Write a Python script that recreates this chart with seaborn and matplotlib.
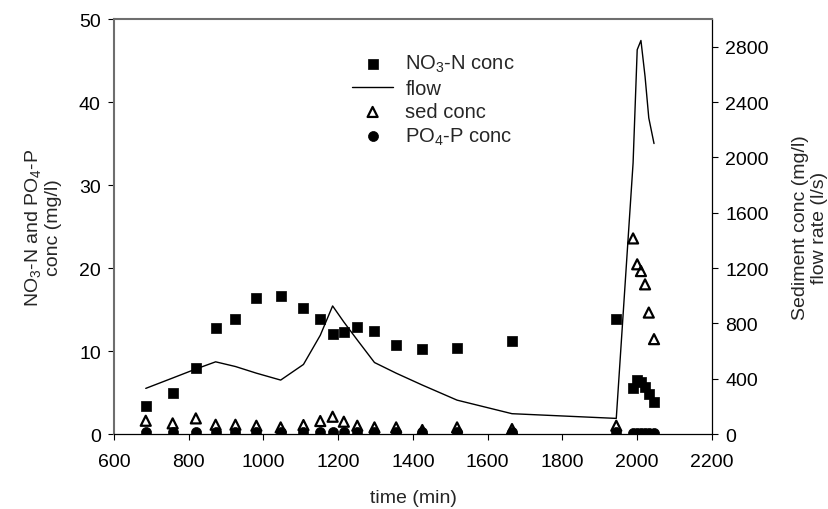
import numpy as np
import pandas as pd
import seaborn as sns
import matplotlib.pyplot as plt

# sample times (min)
times = [685, 757, 819, 872, 925, 981, 1046, 1107, 1152, 1185, 1215, 1251,
         1297, 1355, 1425, 1518, 1665, 1944, 1989, 2000, 2010, 2021, 2031, 2045]
# NO3-N conc (mg/l)
no3 = [3.4, 5.0, 7.95, 12.8, 13.9, 16.4, 16.6, 15.2, 13.9, 12.1, 12.3, 12.9,
       12.4, 10.7, 10.3, 10.4, 11.2, 13.8, 5.5, 6.5, 6.3, 5.7, 4.8, 3.9]
# PO4-P conc (mg/l)
po4 = [0.2, 0.2, 0.2, 0.2, 0.2, 0.2, 0.2, 0.2, 0.2, 0.2, 0.2, 0.2,
       0.2, 0.2, 0.2, 0.2, 0.2, 0.2, 0.15, 0.15, 0.15, 0.15, 0.15, 0.15]
# sediment conc (mg/l)
sed = [96, 77, 113, 67, 67, 60, 48, 65, 94, 125, 89, 60,
       48, 48, 29, 48, 36, 60, 1414, 1227, 1178, 1082, 878, 686]
# flow rate (l/s)
flow = [330, 405, 470, 522, 488, 440, 390, 503, 714, 926, 810, 680,
        517, 440, 354, 245, 147, 113, 1960, 2778, 2845, 2585, 2285, 2100]

df = pd.DataFrame({'time': times, 'no3': no3, 'po4': po4, 'sed': sed, 'flow': flow})

sns.set_style('ticks')
plt.rcParams['font.family'] = ['Liberation Sans', 'DejaVu Sans']
plt.rcParams['mathtext.fontset'] = 'custom'
plt.rcParams['mathtext.rm'] = 'Liberation Sans'
plt.rcParams['mathtext.it'] = 'Liberation Sans:italic'
plt.rcParams['mathtext.bf'] = 'Liberation Sans:bold'

FS = 14

fig = plt.figure(figsize=(8.29, 5.10), dpi=100)
ax = fig.add_axes([0.1375, 0.147, 0.7213, 0.8137])
ax2 = ax.twinx()

sns.scatterplot(data=df, x='time', y='no3', ax=ax, marker='s', s=46, color='black',
                edgecolor='black', linewidth=0.5, label='NO$_3$-N conc', zorder=3)
sns.scatterplot(data=df, x='time', y='po4', ax=ax, marker='o', s=52, color='black',
                edgecolor='black', linewidth=0.5, label='PO$_4$-P conc', zorder=3)

sns.lineplot(data=df, x='time', y='flow', ax=ax2, color='black', linewidth=1.0, label='flow')
sns.scatterplot(data=df, x='time', y='sed', ax=ax2, marker='^', s=52, facecolor='none',
                edgecolor='black', linewidth=1.6, label='sed conc', zorder=3)

ax.set_xlim(600, 2200)
ax.set_ylim(0, 50)
ax2.set_ylim(0, 3000)
ax.set_xticks(np.arange(600, 2201, 200))
ax.set_yticks(np.arange(0, 51, 10))
ax2.set_yticks(np.arange(0, 2801, 400))

ax.set_xlabel('time (min)', fontsize=FS, labelpad=14)
ax.set_ylabel('NO$_3$-N and PO$_4$-P\nconc (mg/l)', fontsize=FS, labelpad=12, linespacing=1.2)
ax2.set_ylabel('Sediment conc (mg/l)\nflow rate (l/s)', fontsize=FS, labelpad=17, linespacing=1.15)

for a in (ax, ax2):
    a.tick_params(direction='out', length=4.5, width=0.8, labelsize=FS, colors='black', pad=5)
ax.tick_params(axis='x', pad=9)
for side in ('top', 'left'):
    ax2.spines[side].set_color('#6e6e6e')
    ax2.spines[side].set_linewidth(1.5)
    ax.spines[side].set_visible(False)
for side in ('bottom', 'right'):
    ax2.spines[side].set_color('black')
    ax2.spines[side].set_linewidth(0.9)
    ax.spines[side].set_visible(False)

h1, l1 = ax.get_legend_handles_labels()
h2, l2 = ax2.get_legend_handles_labels()
ax.get_legend().remove()
ax2.get_legend().remove()
handles = [h1[0], h2[0], h2[1], h1[1]]
labels = [l1[0], l2[0], l2[1], l1[1]]
ax2.legend(handles, labels, loc='upper left', bbox_to_anchor=(0.398, 0.918), frameon=False,
           fontsize=14.5, handlelength=2.05, handletextpad=0.6, labelspacing=0.22,
           borderpad=0, borderaxespad=0)

fig.savefig('out.png', dpi=100)
